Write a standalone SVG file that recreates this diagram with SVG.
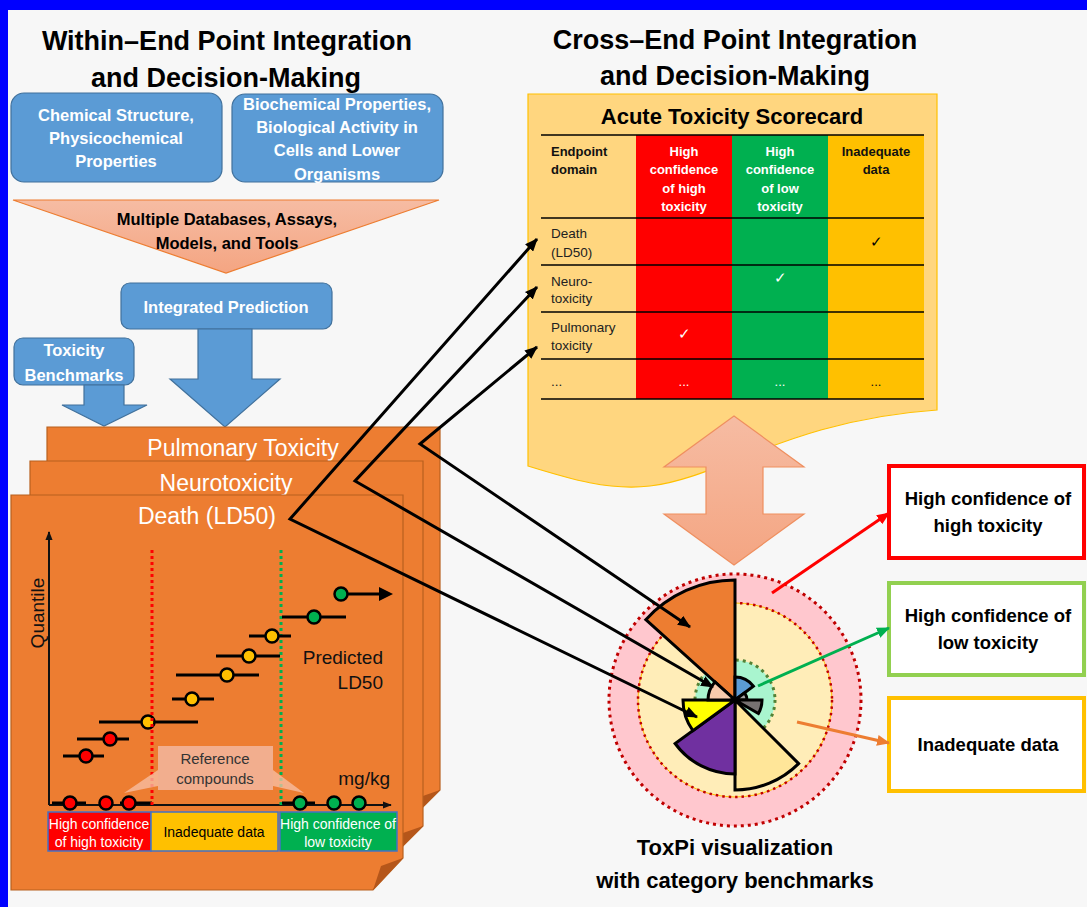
<svg xmlns="http://www.w3.org/2000/svg" width="1087" height="907" viewBox="0 0 1087 907">
<style>
text{font-family:"Liberation Sans",Arial,sans-serif}
.title{font-size:27px;font-weight:bold;fill:#000;text-anchor:middle}
.bluebox{fill:#5b9bd5;stroke:#41719c;stroke-width:1.2}
.wb{font-size:16.5px;font-weight:bold;fill:#fff;text-anchor:middle}
.page{fill:#ed7d31;stroke:#b8601f;stroke-width:1.2}
.pt{font-size:23px;fill:#fff;text-anchor:middle}
.ch{font-size:13px;font-weight:bold;text-anchor:middle}
.chl{font-size:13px;font-weight:bold;text-anchor:start;fill:#111}
.cl{font-size:13.5px;fill:#222}
.lg{font-size:18.5px;font-weight:bold;fill:#000;text-anchor:middle}
.dot{stroke:#000;stroke-width:2.5}
.bar{stroke:#000;stroke-width:3}
.conn{fill:none;stroke:#000;stroke-width:3;marker-start:url(#ah);marker-end:url(#ah)}
.wedge{stroke:#000;stroke-width:3;stroke-linejoin:miter}
</style>
<defs>
<linearGradient id="salmon" x1="0" y1="0" x2="0" y2="1">
<stop offset="0" stop-color="#f6bca3"/><stop offset="1" stop-color="#f4a582"/>
</linearGradient>
<marker id="ah" viewBox="0 0 12 10" refX="11" refY="5" markerWidth="13" markerHeight="11" markerUnits="userSpaceOnUse" orient="auto-start-reverse">
<path d="M0,0 L12,5 L0,10 Z" fill="#000"/>
</marker>
<marker id="ahr" viewBox="0 0 12 10" refX="11" refY="5" markerWidth="13" markerHeight="11" markerUnits="userSpaceOnUse" orient="auto"><path d="M0,0 L12,5 L0,10 Z" fill="#ff0000"/></marker>
<marker id="ahg" viewBox="0 0 12 10" refX="11" refY="5" markerWidth="13" markerHeight="11" markerUnits="userSpaceOnUse" orient="auto"><path d="M0,0 L12,5 L0,10 Z" fill="#00b050"/></marker>
<marker id="aho" viewBox="0 0 12 10" refX="11" refY="5" markerWidth="13" markerHeight="11" markerUnits="userSpaceOnUse" orient="auto"><path d="M0,0 L12,5 L0,10 Z" fill="#ed7d31"/></marker>
<marker id="axk" viewBox="0 0 10 8" refX="9" refY="4" markerWidth="9" markerHeight="8" markerUnits="userSpaceOnUse" orient="auto"><path d="M0,0 L10,4 L0,8 Z" fill="#111"/></marker>
</defs>

<!-- background -->
<rect x="0" y="0" width="1087" height="907" fill="#f7f7f7"/>
<rect x="0" y="0" width="1087" height="10" fill="#0000ff"/>
<rect x="0" y="0" width="8" height="907" fill="#0000ff"/>

<!-- titles -->
<text class="title" x="227" y="50">Within–End Point Integration</text>
<text class="title" x="226" y="87">and Decision-Making</text>
<text class="title" x="735" y="49">Cross–End Point Integration</text>
<text class="title" x="735" y="85">and Decision-Making</text>

<g id="chem-structure">
<rect class="bluebox" x="11" y="93" width="211" height="89" rx="13"/>
<text class="wb" x="116" y="121">Chemical Structure,</text>
<text class="wb" x="116" y="144">Physicochemical</text>
<text class="wb" x="116" y="167">Properties</text>
</g>
<g id="biochem">
<rect class="bluebox" x="232" y="94" width="211" height="88" rx="13"/>
<text class="wb" x="337" y="110">Biochemical Properties,</text>
<text class="wb" x="337" y="133">Biological Activity in</text>
<text class="wb" x="337" y="156">Cells and Lower</text>
<text class="wb" x="337" y="180">Organisms</text>
</g>
<g id="databases">
<polygon points="13,200 439,200 226,273" fill="url(#salmon)" stroke="#ed7d31" stroke-width="1.2"/>
<text x="227" y="225" font-size="16.5" font-weight="bold" text-anchor="middle" fill="#000">Multiple Databases, Assays,</text>
<text x="227" y="249" font-size="16.5" font-weight="bold" text-anchor="middle" fill="#000">Models, and Tools</text>
</g>
<g id="integrated-prediction">
<rect class="bluebox" x="121" y="283" width="211" height="46" rx="9"/>
<text class="wb" x="226" y="313">Integrated Prediction</text>
<polygon class="bluebox" points="198,329 252,329 252,379 280,379 225,427 170,379 198,379"/>
</g>
<g id="toxicity-benchmarks">
<rect class="bluebox" x="14" y="338" width="120" height="47" rx="9"/>
<text class="wb" x="74" y="356">Toxicity</text>
<text class="wb" x="74" y="381">Benchmarks</text>
<polygon class="bluebox" points="84,385 124,385 124,405 147,405 104,426 62,405 84,405"/>
</g>

<!-- pages -->
<g id="page-pulmonary">
<polygon class="page" points="47,427 440,427 440,790 416,814 47,814"/>
<polygon points="416,814 440,790 420,797" fill="#b5561a"/>
<text class="pt" x="243" y="456">Pulmonary Toxicity</text>
</g>
<g id="page-neuro">
<polygon class="page" points="30,461 423,461 423,826 398,851 30,851"/>
<polygon points="398,851 423,826 403,833" fill="#b5561a"/>
<text class="pt" x="226" y="491">Neurotoxicity</text>
</g>
<g id="page-death">
<polygon class="page" points="11,495 403,495 403,858 373,890 11,890"/>
<polygon points="373,890 403,858 381,866" fill="#b5561a"/>
<text class="pt" x="207" y="524">Death (LD50)</text>

<!-- chart -->
<line x1="49" y1="805" x2="49" y2="532" stroke="#111" stroke-width="2" marker-end="url(#axk)"/>
<line x1="49" y1="805" x2="391" y2="805" stroke="#111" stroke-width="2" marker-end="url(#axk)"/>
<text x="0" y="0" font-size="19" fill="#111" text-anchor="middle" transform="translate(44,613) rotate(-90)">Quantile</text>
<text x="383" y="664" font-size="19" fill="#111" text-anchor="end">Predicted</text>
<text x="383" y="689" font-size="19" fill="#111" text-anchor="end">LD50</text>
<text x="390" y="785" font-size="19" fill="#111" text-anchor="end">mg/kg</text>

<line x1="281" y1="550" x2="281" y2="805" stroke="#00b050" stroke-width="3" stroke-dasharray="3 3"/>

<g id="points">
<line class="bar" x1="341" y1="594" x2="382" y2="594"/>
<path d="M379,587 L393,594 L379,601 Z" fill="#000"/>
<circle class="dot" cx="341" cy="594" r="6.5" fill="#00b050"/>
<line class="bar" x1="282" y1="617" x2="346" y2="617"/>
<circle class="dot" cx="314" cy="617" r="6.5" fill="#00b050"/>
<line class="bar" x1="249" y1="636" x2="291" y2="636"/>
<circle class="dot" cx="272" cy="636" r="6.5" fill="#ffc000"/>
<line class="bar" x1="216" y1="656" x2="280" y2="656"/>
<circle class="dot" cx="249" cy="656" r="6.5" fill="#ffc000"/>
<line class="bar" x1="176" y1="675" x2="259" y2="675"/>
<circle class="dot" cx="227" cy="675" r="6.5" fill="#ffc000"/>
<line class="bar" x1="172" y1="699" x2="214" y2="699"/>
<circle class="dot" cx="192" cy="699" r="6.5" fill="#ffc000"/>
<line class="bar" x1="99" y1="722" x2="198" y2="722"/>
<circle class="dot" cx="148" cy="722" r="6.5" fill="#ffc000"/>
<line class="bar" x1="77" y1="739" x2="129" y2="739"/>
<circle class="dot" cx="110" cy="739" r="6.5" fill="#ff0000"/>
<line class="bar" x1="63" y1="756" x2="104" y2="756"/>
<circle class="dot" cx="86" cy="756" r="6.5" fill="#ff0000"/>
<line class="bar" x1="52" y1="803" x2="86" y2="803"/>
<line class="bar" x1="120" y1="803" x2="152" y2="803"/>
<line class="bar" x1="282" y1="803" x2="315" y2="803"/>
<circle class="dot" cx="70" cy="803" r="6.5" fill="#ff0000"/>
<circle class="dot" cx="106" cy="803" r="6.5" fill="#ff0000"/>
<circle class="dot" cx="129" cy="803" r="6.5" fill="#ff0000"/>
<circle class="dot" cx="300" cy="803" r="6.5" fill="#00b050"/>
<circle class="dot" cx="334" cy="803" r="6.5" fill="#00b050"/>
<circle class="dot" cx="359" cy="803" r="6.5" fill="#00b050"/>
</g>
<line x1="152" y1="550" x2="152" y2="805" stroke="#ff0000" stroke-width="3" stroke-dasharray="3 3"/>

<g id="reference-compounds">
<polygon points="158,770 158,786 124,793" fill="#f7c2a8" fill-opacity="0.75"/>
<polygon points="273,770 273,786 304,793" fill="#f7c2a8" fill-opacity="0.75"/>
<rect x="158" y="746" width="115" height="44" fill="#f2ae8e"/>
<text x="215" y="764" font-size="15" fill="#333" text-anchor="middle">Reference</text>
<text x="215" y="784" font-size="15" fill="#333" text-anchor="middle">compounds</text>
</g>

<g id="category-bars">
<rect x="48" y="812" width="103" height="39" fill="#ff0000" stroke="#4472c4" stroke-width="1.5"/>
<rect x="151" y="812" width="127" height="39" fill="#ffc000" stroke="#4472c4" stroke-width="1.5"/>
<rect x="280" y="812" width="117" height="39" fill="#00b050" stroke="#4472c4" stroke-width="1.5"/>
<text x="99" y="829" font-size="14" fill="#fff" text-anchor="middle">High confidence</text>
<text x="99" y="847" font-size="14" fill="#fff" text-anchor="middle">of high toxicity</text>
<text x="214" y="837" font-size="14" fill="#000" text-anchor="middle">Inadequate data</text>
<text x="338" y="829" font-size="14" fill="#fff" text-anchor="middle">High confidence of</text>
<text x="338" y="847" font-size="14" fill="#fff" text-anchor="middle">low toxicity</text>
</g>
</g>

<!-- scorecard -->
<g id="scorecard">
<path d="M528,94 H937 V410 C790,420 720,478 650,486 C610,491 570,479 528,466 Z" fill="#ffd67f" stroke="#ffc000" stroke-width="1.2"/>
<text x="732" y="124" font-size="22" font-weight="bold" text-anchor="middle" fill="#000">Acute Toxicity Scorecard</text>
<rect x="636" y="135" width="96" height="264" fill="#ff0000"/>
<rect x="732" y="135" width="96" height="264" fill="#00b050"/>
<rect x="828" y="135" width="96" height="264" fill="#ffc000"/>
<g stroke="#000" stroke-width="1.5">
<line x1="541" y1="135" x2="924" y2="135"/>
<line x1="541" y1="218" x2="924" y2="218"/>
<line x1="541" y1="265" x2="924" y2="265"/>
<line x1="541" y1="312" x2="924" y2="312"/>
<line x1="541" y1="359" x2="924" y2="359"/>
<line x1="541" y1="399" x2="924" y2="399"/>
</g>
<text class="chl" x="551" y="156">Endpoint</text>
<text class="chl" x="551" y="174">domain</text>
<text class="ch" x="684" y="156" fill="#fff">High</text>
<text class="ch" x="684" y="174" fill="#fff">confidence</text>
<text class="ch" x="684" y="193" fill="#fff">of high</text>
<text class="ch" x="684" y="211" fill="#fff">toxicity</text>
<text class="ch" x="780" y="156" fill="#fff">High</text>
<text class="ch" x="780" y="174" fill="#fff">confidence</text>
<text class="ch" x="780" y="193" fill="#fff">of low</text>
<text class="ch" x="780" y="211" fill="#fff">toxicity</text>
<text class="ch" x="876" y="156" fill="#111">Inadequate</text>
<text class="ch" x="876" y="174" fill="#111">data</text>
<text class="cl" x="551" y="238">Death</text>
<text class="cl" x="551" y="257">(LD50)</text>
<text class="cl" x="551" y="286">Neuro-</text>
<text class="cl" x="551" y="303">toxicity</text>
<text class="cl" x="551" y="332">Pulmonary</text>
<text class="cl" x="551" y="350">toxicity</text>
<text class="cl" x="551" y="386">...</text>
<text x="684" y="386" font-size="13" fill="#fff" text-anchor="middle">...</text>
<text x="780" y="386" font-size="13" fill="#fff" text-anchor="middle">...</text>
<text x="876" y="386" font-size="13" fill="#111" text-anchor="middle">...</text>
<text x="876" y="247" font-size="15" fill="#000" text-anchor="middle" font-family="DejaVu Sans, sans-serif">✓</text>
<text x="780" y="283" font-size="15" fill="#fff" text-anchor="middle" font-family="DejaVu Sans, sans-serif">✓</text>
<text x="684" y="339" font-size="15" fill="#fff" text-anchor="middle" font-family="DejaVu Sans, sans-serif">✓</text>
</g>

<g id="double-arrow">
<polygon points="734,416 804,467 763,467 763,514 804,514 734,565 664,514 706,514 706,467 664,467" fill="url(#salmon)" stroke="#ef8f5f" stroke-width="1.2"/>
</g>

<!-- ToxPi -->
<g id="toxpi">
<circle cx="735" cy="700" r="126" fill="#ffc7ce" stroke="#c00000" stroke-width="3" stroke-dasharray="3 4"/>
<circle cx="735" cy="700" r="97" fill="#ffedb8" stroke="#ffc000" stroke-width="1"/>
<circle cx="735" cy="700" r="97" fill="none" stroke="#c00000" stroke-width="2.5" stroke-dasharray="2.5 4"/>
<circle cx="735" cy="700" r="40" fill="#a9f5cf" stroke="#548235" stroke-width="3" stroke-dasharray="3 4"/>
<path class="wedge" d="M735,700 L645.8,619.7 A120,120 0 0 1 735,580 Z" fill="#ed7d31"/>
<path class="wedge" d="M735,700 L798.6,763.6 A90,90 0 0 1 735,790 Z" fill="#ffe699"/>
<path class="wedge" d="M735,700 L735,774 A74,74 0 0 1 675.1,743.5 Z" fill="#7030a0"/>
<path class="wedge" d="M735,700 L692.9,730.6 A52,52 0 0 1 683,700 Z" fill="#ffff00"/>
<path class="wedge" d="M735,700 L708,700 A27,27 0 0 1 714.9,681.9 Z" fill="#f8cbad"/>
<path class="wedge" d="M735,700 L735,677 A23,23 0 0 1 753.4,686.2 Z" fill="#5b9bd5"/>
<path class="wedge" d="M735,700 L744.6,692.8 A12,12 0 0 1 747,700 Z" fill="#a6a6a6"/>
<path class="wedge" d="M735,700 L762,700 A27,27 0 0 1 758.4,713.5 Z" fill="#767171"/>
</g>
<text x="735" y="855" font-size="22" font-weight="bold" text-anchor="middle" fill="#000">ToxPi visualization</text>
<text x="735" y="888" font-size="22" font-weight="bold" text-anchor="middle" fill="#000">with category benchmarks</text>

<!-- legend boxes -->
<g id="legend-high">
<rect x="889" y="466" width="195" height="92" fill="#fff" stroke="#ff0000" stroke-width="4"/>
<text class="lg" x="988" y="505">High confidence of</text>
<text class="lg" x="988" y="532">high toxicity</text>
</g>
<g id="legend-low">
<rect x="889" y="583" width="195" height="92" fill="#fff" stroke="#92d050" stroke-width="4"/>
<text class="lg" x="988" y="622">High confidence of</text>
<text class="lg" x="988" y="649">low toxicity</text>
</g>
<g id="legend-inadequate">
<rect x="889" y="698" width="195" height="93" fill="#fff" stroke="#ffc000" stroke-width="4"/>
<text class="lg" x="988" y="751">Inadequate data</text>
</g>

<!-- connectors -->
<g id="connectors">
<polyline class="conn" points="537,347 420,444 690,627"/>
<polyline class="conn" points="537,287 355,481 713,687"/>
<polyline class="conn" points="537,239 290,519 697,717"/>
<line x1="772" y1="593" x2="889" y2="513" stroke="#ff0000" stroke-width="3" marker-end="url(#ahr)"/>
<line x1="758" y1="686" x2="889" y2="628" stroke="#00b050" stroke-width="3" marker-end="url(#ahg)"/>
<line x1="797" y1="722" x2="889" y2="743" stroke="#ed7d31" stroke-width="3" marker-end="url(#aho)"/>
</g>
</svg>
